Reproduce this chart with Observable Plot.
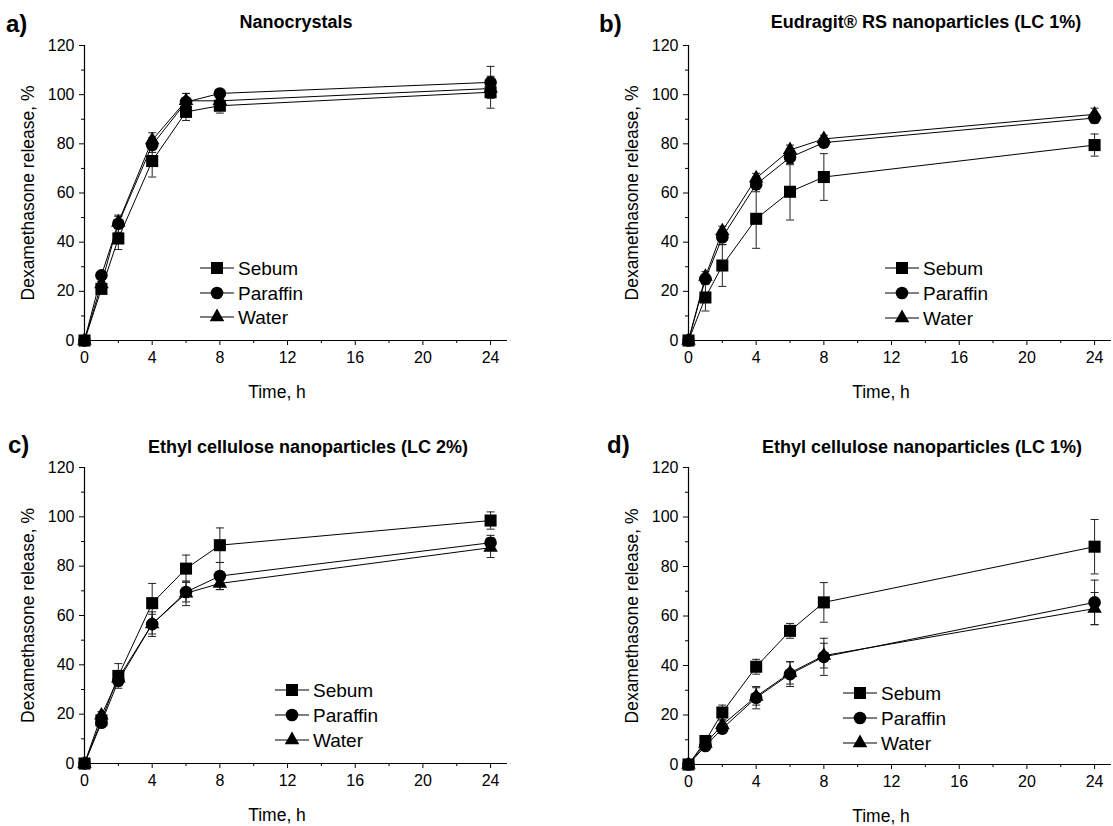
<!DOCTYPE html>
<html><head><meta charset="utf-8">
<script src="https://cdn.jsdelivr.net/npm/d3@7"></script>
<script src="https://cdn.jsdelivr.net/npm/@observablehq/plot@0.6"></script>
<style>
body{margin:0;background:#fff}
#root{position:relative;width:1113px;height:826px;background:#fff;font-family:"Liberation Sans",Arial,sans-serif;color:#000;overflow:hidden}
#root > svg, #root > figure{position:absolute;margin:0}
</style></head><body><div id="root"></div>
<script>
// ---- data ----
const times = [0, 1, 2, 4, 6, 8, 24];
const seriesNames = ["Sebum", "Paraffin", "Water"];
const xTicks = [0, 4, 8, 12, 16, 20, 24];
const xMinorTicks = [2, 6, 10, 14, 18, 22];
const yTicks = [0, 20, 40, 60, 80, 100, 120];
const yMinorTicks = [10, 30, 50, 70, 90, 110];
const xLabel = "Time, h";
const yLabel = "Dexamethasone release, %";
const panelLetters = ["a)", "b)", "c)", "d)"];
const panelTitles = ["Nanocrystals", "Eudragit® RS nanoparticles (LC 1%)",
  "Ethyl cellulose nanoparticles (LC 2%)", "Ethyl cellulose nanoparticles (LC 1%)"];

// a) Nanocrystals
const sebumA = [0, 21, 41.5, 73, 93, 95.5, 101];
const sebumA_sd = [0, 1.5, 4.5, 6.5, 3.5, 3, 6.5];
const paraffinA = [0, 26.5, 47.5, 79.5, 97, 100.5, 105];
const paraffinA_sd = [0, 1.5, 3.5, 3, 3.5, 1.5, 6.5];
const waterA = [0, 23, 48, 81.5, 97.5, 97.5, 102.5];
const waterA_sd = [0, 1, 2.5, 3, 3, 2, 3];

// b) Eudragit RS (LC 1%)
const sebumB = [0, 17.5, 30.5, 49.5, 60.5, 66.5, 79.5];
const sebumB_sd = [0, 5.5, 8.5, 12, 11.5, 9.5, 4.5];
const paraffinB = [0, 25, 42, 63.5, 74.5, 80.5, 90.5];
const paraffinB_sd = [0, 2, 3, 3, 3, 2, 2];
const waterB = [0, 26, 44.5, 66, 77.5, 82, 92];
const waterB_sd = [0, 2, 2, 2, 2, 1.5, 2.5];

// c) Ethyl cellulose (LC 2%)
const sebumC = [0, 17.5, 35.5, 65, 79, 88.5, 98.5];
const sebumC_sd = [0, 1.5, 5, 8, 5.5, 7, 3.5];
const paraffinC = [0, 16.5, 33.5, 56.5, 69.5, 76, 89.5];
const paraffinC_sd = [0, 1.5, 2, 4, 4, 5.5, 3];
const waterC = [0, 19.5, 34.5, 56.5, 69, 73, 87.5];
const waterC_sd = [0, 1.5, 2.5, 5, 5, 2.5, 4];

// d) Ethyl cellulose (LC 1%)
const sebumD = [0, 9.5, 21, 39.5, 54, 65.5, 88];
const sebumD_sd = [0, 1, 3, 3, 3, 8, 11];
const paraffinD = [0, 7.5, 14.5, 27, 36.5, 43.5, 65.5];
const paraffinD_sd = [0, 1, 2, 4.5, 5, 7.5, 9];
const waterD = [0, 8.5, 16, 27.5, 37, 44, 63];
const waterD_sd = [0, 1, 2, 3.5, 4.5, 5, 6.5];

// ---- layout ----
const panels = [
  {left: 0, top: 0, width: 556, height: 413, mB: 73, mR: 49,
   series: [[sebumA, sebumA_sd], [paraffinA, paraffinA_sd], [waterA, waterA_sd]],
   letterX: 6, letterY: 32, titleX: 296, titleY: 28, legX: 200, legY: [268, 293, 317]},
  {left: 604, top: 0, width: 509, height: 413, mB: 73, mR: 2,
   series: [[sebumB, sebumB_sd], [paraffinB, paraffinB_sd], [waterB, waterB_sd]],
   letterX: 599, letterY: 32, titleX: 926, titleY: 28, legX: 885, legY: [268, 293, 318]},
  {left: 0, top: 422, width: 556, height: 404, mB: 63, mR: 49,
   series: [[sebumC, sebumC_sd], [paraffinC, paraffinC_sd], [waterC, waterC_sd]],
   letterX: 8, letterY: 453, titleX: 308, titleY: 453, legX: 275, legY: [690, 715, 740]},
  {left: 604, top: 422, width: 509, height: 404, mB: 62, mR: 2,
   series: [[sebumD, sebumD_sd], [paraffinD, paraffinD_sd], [waterD, waterD_sd]],
   letterX: 607, letterY: 453, titleX: 922, titleY: 453, legX: 843, legY: [693, 718, 743]}
];

const capSymbol = {draw(ctx, size) { const w = Math.sqrt(size / Math.PI); ctx.moveTo(-w, 0); ctx.lineTo(w, 0); }};
const symbolOf = {Sebum: "square", Paraffin: "circle", Water: "triangle"};
const rOf = {Sebum: 6.8, Paraffin: 6.3, Water: 5.4};
const font = "Liberation Sans, Arial, sans-serif";
const root = document.getElementById("root");

panels.forEach((p, pi) => {
  const rows = [];
  p.series.forEach(([vals, sds], si) => {
    vals.forEach((v, i) => rows.push({series: seriesNames[si], t: times[i], v, sd: sds[i]}));
  });
  const err = rows.filter(d => d.sd > 0);
  const marks = [
    Plot.ruleY([0], {stroke: "black", strokeWidth: 1.2}),
    Plot.ruleX([0], {stroke: "black", strokeWidth: 1.2}),
    Plot.axisX({ticks: xTicks, tickSize: 5, tickPadding: 6, label: null, fontSize: 16}),
    Plot.axisX({ticks: xMinorTicks, tickSize: 3, text: null, label: null}),
    Plot.axisY({ticks: yTicks, tickSize: 5, tickPadding: 5, label: null, fontSize: 16}),
    Plot.axisY({ticks: yMinorTicks, tickSize: 3, text: null, label: null}),
    Plot.text([xLabel], {text: d => d, frameAnchor: "bottom", textAnchor: "middle", dx: -19, dy: 57, lineAnchor: "bottom", fontSize: 17.5}),
    Plot.text([yLabel], {text: d => d, frameAnchor: "left", textAnchor: "middle", lineAnchor: "middle", dx: -56, rotate: -90, fontSize: 17.5}),
    Plot.ruleX(err, {x: "t", y1: d => d.v - d.sd, y2: d => d.v + d.sd, stroke: "#222", strokeWidth: 1}),
    Plot.dot(err, {x: "t", y: d => d.v + d.sd, symbol: capSymbol, r: 4, stroke: "#222", strokeWidth: 1}),
    Plot.dot(err, {x: "t", y: d => d.v - d.sd, symbol: capSymbol, r: 4, stroke: "#222", strokeWidth: 1}),
    Plot.line(rows, {x: "t", y: "v", z: "series", stroke: "black", strokeWidth: 1})
  ];
  seriesNames.forEach(s => {
    marks.push(Plot.dot(rows.filter(d => d.series === s), {x: "t", y: "v", symbol: symbolOf[s], r: rOf[s], fill: "black", stroke: "none"}));
  });
  const chart = Plot.plot({
    width: p.width, height: p.height,
    marginLeft: 84, marginTop: 45, marginBottom: p.mB, marginRight: p.mR,
    style: {fontFamily: font, fontSize: "16px", color: "black", background: "transparent", overflow: "visible"},
    x: {domain: [0, 25]},
    y: {domain: [0, 120]},
    marks
  });
  chart.style.left = p.left + "px";
  chart.style.top = p.top + "px";
  root.appendChild(chart);
});

// overlay: panel letters, titles, legends
const ov = d3.select(root).append("svg")
  .attr("width", 1113).attr("height", 826)
  .style("left", "0px").style("top", "0px").style("pointer-events", "none")
  .attr("font-family", font);

panels.forEach((p, pi) => {
  ov.append("text").attr("x", p.letterX).attr("y", p.letterY)
    .attr("font-size", 24).attr("font-weight", "bold").text(panelLetters[pi]);
  ov.append("text").attr("x", p.titleX).attr("y", p.titleY).attr("text-anchor", "middle")
    .attr("font-size", 18).attr("font-weight", "bold").text(panelTitles[pi]);
  seriesNames.forEach((s, i) => {
    const y = p.legY[i], x0 = p.legX, cx = x0 + 17;
    ov.append("line").attr("x1", x0).attr("x2", x0 + 34).attr("y1", y).attr("y2", y)
      .attr("stroke", "black").attr("stroke-width", 1);
    const sym = s === "Sebum" ? d3.symbolSquare : s === "Paraffin" ? d3.symbolCircle : d3.symbolTriangle;
    ov.append("path").attr("transform", `translate(${cx},${y})`)
      .attr("d", d3.symbol(sym, Math.PI * rOf[s] * rOf[s])()).attr("fill", "black");
    ov.append("text").attr("x", x0 + 38).attr("y", y + 7).attr("font-size", 19).text(s);
  });
});
</script></body></html>
